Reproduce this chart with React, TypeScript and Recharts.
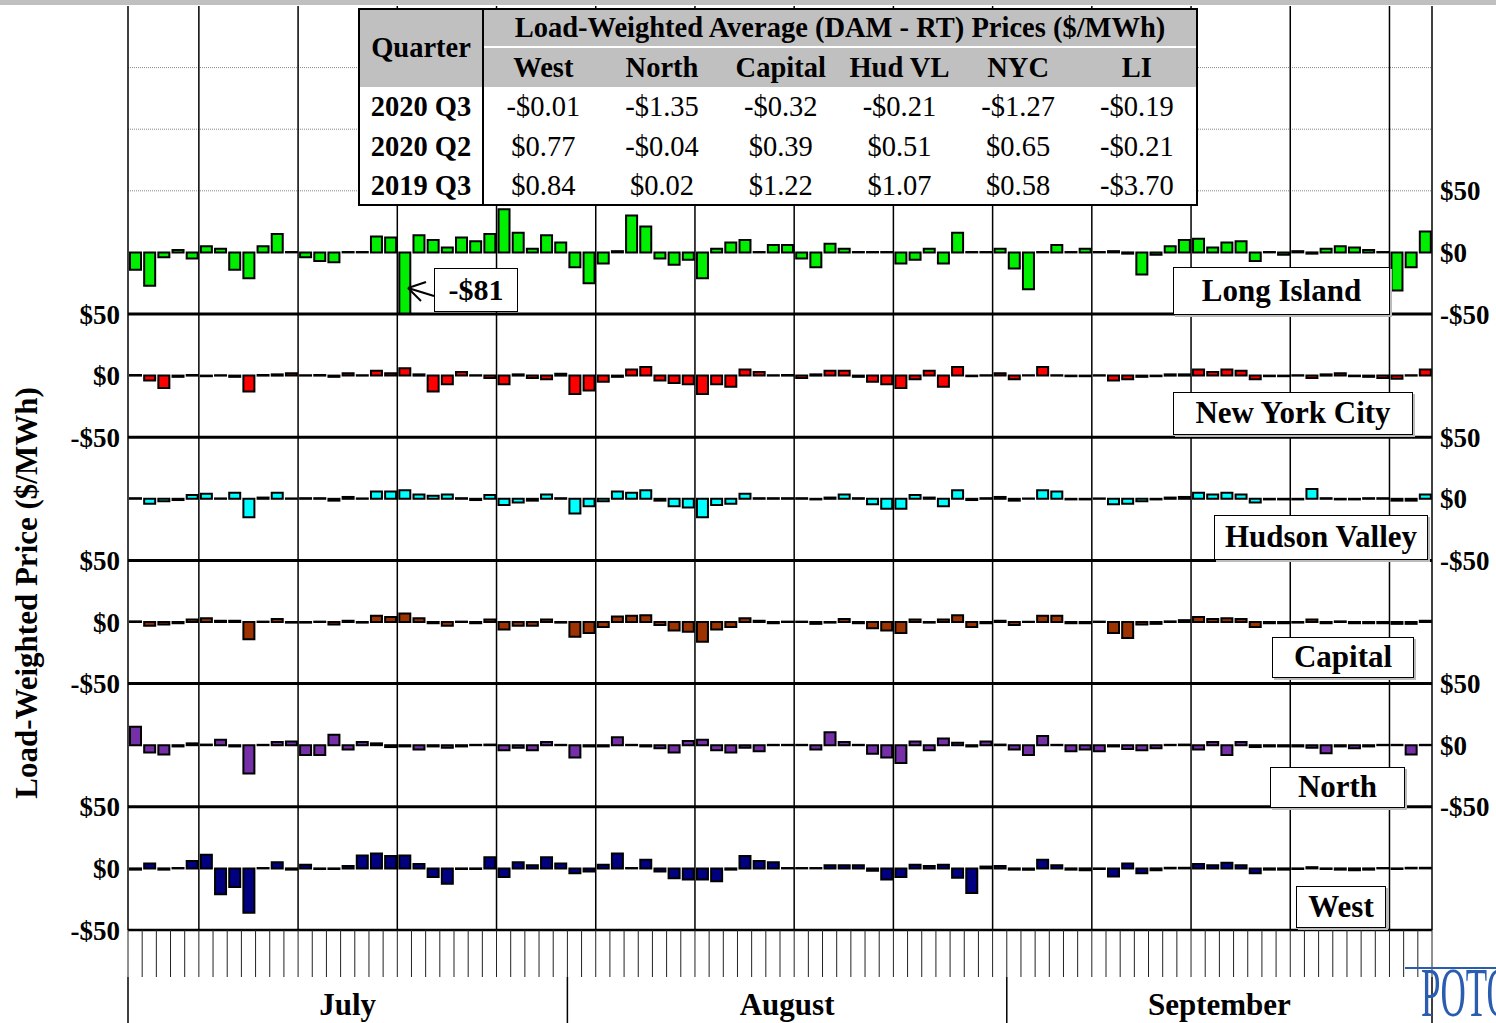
import React from "react";
import { ComposedChart, Bar, XAxis, YAxis, ReferenceLine } from "recharts";

// Daily load-weighted (DAM - RT) price differences, Jul 1 - Sep 30 2020 ($/MWh)
const MONTHS: [string, number][] = [["7", 31], ["8", 31], ["9", 30]];
const DAYS: string[] = MONTHS.flatMap(([m, n]) => Array.from({ length: n }, (_, i) => `${m}/${i + 1}`));

const LONG_ISLAND = [
  -14, -27, -4, 2, -5,
  5, 3, -14, -21, 5, 15, 0.3,
  -4, -7, -8, 0.3, 0.3, 13, 12,
  -81, 14, 10, 4, 12, 9, 15,
  35, 16, 3, 14, 8, -12, -25,
  -9, 1, 30, 21, -5, -10, -6,
  -21, 3, 8, 10, 0.3, 6, 6,
  -5, -12, 7, 3, 0.3, 0.3, 0.3,
  -9, -6, 3, -9, 16, 0.3, 0.3,
  3, -13, -30, 0.3, 6, 0.3, 3,
  0.3, 1, -1, -18, -2, 5, 10,
  11, 4, 8, 9, -7, 0.3, -2,
  1, -1, 3, 5, 4, 2, 0.3,
  -31, -12, 17,
];
const NYC = [
  0.5, -4, -10, -1, 0.5,
  -0.5, 0.3, -1, -13, 0.5, 1, 2,
  0.3, 0.5, -1, 2, 0.3, 4, 2,
  6, 1, -13, -7, 3, 0.3, -2,
  -7, 1, -2, -3, 1.5, -15, -12,
  -5, -1, 5, 7, -4, -6, -7,
  -15, -7, -9, 5, 3, 0.3, 0.5,
  -2, 1, 4, 4, -1, -5, -7,
  -10, -3, 4, -9, 7, -0.5, 0.3,
  2, -3, 0.3, 7, 0.3, -0.5, -0.5,
  0.3, -4, -3, -1, -0.5, 1, 1,
  5, 3, 5, 4, -3, -0.5, -0.5,
  0.3, -2, 1, 2, -0.5, -1, -2,
  -2.5, 0.3, 5,
];
const HUDSON_VALLEY = [
  0.5, -4, -2, -1, 3,
  4, 0.3, 5, -15, 1, 5, 0.3,
  0.5, 0.5, -1.5, 1.5, 0.3, 6, 6,
  7, 3.5, 2.5, 3.5, 0.5, -1, 3,
  -5, -3, -1.5, 3.5, 0.5, -12, -6,
  -2, 6, 5, 7, -1.5, -6, -7,
  -15, -5, -4, 4, 0.5, 0.5, 0.5,
  0.5, -0.5, 1, 3.5, 0.5, -4.5, -8,
  -8, 3, 1, -6, 7, -1, 0.5,
  1.5, -1.5, 0.3, 7, 6, -0.5, -0.5,
  0.3, -4.5, -4, -2, -0.5, 1, 1.5,
  5, 3.5, 5, 3.5, -3, -0.5, -0.5,
  -0.5, 8, 0.5, -0.5, -0.5, 0.5, 0.5,
  -1.5, -1.5, 3.5,
];
const CAPITAL = [
  0.5, -3, -2, -1, 2,
  3, 1, 1, -14, 0.3, 2.5, -0.5,
  -0.5, 0.3, -2, 1, -0.5, 5, 4,
  7, 3, -1, -3, 0.3, -1, 2,
  -6, -3, -3, 2, -0.5, -12, -9,
  -4, 4.5, 5, 5.5, -2.5, -7, -8,
  -16, -6, -4, 3, 1, -1, 0.3,
  0.3, -1.5, -0.5, 2.5, -1, -5, -7,
  -9, 2, -0.5, 2, 5.5, -4, -1,
  1, -2.5, 0.3, 5, 5, -1, -1,
  0.3, -9, -13, -2, -1.5, 0.5, 1.5,
  4, 2.5, 3, 2.5, -4, -1, -1,
  -0.5, 2, -1, 0.5, -1, -1, -1,
  -1.5, -1.5, 1,
];
const NORTH = [
  15, -6, -7.5, -1, 1.5,
  0.5, 4.5, -1, -23, 0.3, 2.5, 3,
  -8, -8, 8.5, -3.5, 2.5, 1.5, -1.5,
  -1, -3.5, -1, -2, -1, 0.3, 0.5,
  -4, -2, -4, 2.5, 0.3, -10, -1,
  -1, 6.5, 0.3, -1, -2.5, -6, 3.5,
  4.5, -4, -6, -2, -5, 0.3, 0.3,
  0.3, -3.5, 10.5, 2.5, 0.3, -7, -10,
  -14.5, 3, -4, 5.5, 2, -1, 3,
  0.5, -3.5, -8, 7.5, 0.3, -5, -3.5,
  -5, -1, -3, -4, -2.5, 0.3, 0.5,
  -3.5, 2.5, -8, 2.5, -1.5, -1, -1,
  -1, -2, -6.5, -1, -2.5, -1, 0.3,
  0.3, -7.5, 0.3,
];
const WEST = [
  -1, 4, -1, 0.3, 6,
  11, -21, -15, -36, 0.3, 5, -1,
  3, -0.5, -0.5, 2, 10.5, 12, 10,
  10.5, 3.5, -7, -12.5, -0.5, -0.5, 9,
  -7, 5, 2.5, 9, 4, -4, -2.5,
  3, 12, 0.3, 7, -2.5, -8, -9,
  -9, -10.5, -1, 10, 6, 5, 0.3,
  0.3, 0.3, 2.5, 2.5, 2.5, -2, -9,
  -7, 3, 2, 3, -7.5, -20, 1.5,
  2, -1, -1, 7, 2.5, -1, -1.5,
  -0.5, -6.5, 4, -4, -1.5, 0.5, 0.5,
  3.5, 2.5, 4.5, 2.5, -4, -1, -1,
  -0.5, 1, -0.5, -1, -1.5, -1, 0.3,
  -0.5, 0.5, 0.5,
];

// quarterly summary table
const TABLE_ZONES = ["West", "North", "Capital", "Hud VL", "NYC", "LI"];
const TABLE_ROWS: [string, string[]][] = [
  ["2020 Q3", ["-$0.01", "-$1.35", "-$0.32", "-$0.21", "-$1.27", "-$0.19"]],
  ["2020 Q2", ["$0.77", "-$0.04", "$0.39", "$0.51", "$0.65", "-$0.21"]],
  ["2019 Q3", ["$0.84", "$0.02", "$1.22", "$1.07", "$0.58", "-$3.70"]],
];

// axis ticks (global units: every panel is 100 units tall, West at the bottom)
const LEFT_TICKS = [-50, 0, 50, 150, 200, 250, 350, 400, 450];
const LEFT_LABELS = ["-$50", "$0", "$50", "-$50", "$0", "$50", "-$50", "$0", "$50"];
const RIGHT_TICKS = [50, 100, 150, 250, 300, 350, 450, 500, 550];
const RIGHT_LABELS = ["-$50", "$0", "$50", "-$50", "$0", "$50", "-$50", "$0", "$50"];
const PANEL_BORDERS = [50, 150, 250, 350, 450];
const LI_GRID = [550, 600, 650];
// Mondays get a full-height grid line
const WEEK_STARTS = ["7/6", "7/13", "7/20", "7/27", "8/3", "8/10", "8/17", "8/24", "8/31", "9/7", "9/14", "9/21", "9/28"];
// month axis: separators at month starts / end, names at mid-month
const MONTH_TICKS = ["7/1", "7/16", "8/1", "8/16", "9/1", "9/15", "9/30"];
const MONTH_NAMES: Record<string, string> = { "7/16": "July", "8/16": "August", "9/15": "September" };

const SERIES = [
  { key: "west", name: "West", values: WEST, color: "#000080", domain: [-50, 700] },
  { key: "north", name: "North", values: NORTH, color: "#7530a8", domain: [-150, 600] },
  { key: "capital", name: "Capital", values: CAPITAL, color: "#9c3300", domain: [-250, 500] },
  { key: "hv", name: "Hudson Valley", values: HUDSON_VALLEY, color: "#00ffff", domain: [-350, 400] },
  { key: "nyc", name: "New York City", values: NYC, color: "#ff0000", domain: [-450, 300] },
  { key: "li", name: "Long Island", values: LONG_ISLAND, color: "#00ee00", domain: [-550, 200] },
];

const data = DAYS.map((day, i) => {
  const row: Record<string, string | number> = { day };
  SERIES.forEach((s) => (row[s.key] = s.values[i]));
  return row;
});

const FONT = "'Liberation Serif', 'Times New Roman', serif";
const tickStyle = { fontSize: 27, fontWeight: 700, fontFamily: FONT, fill: "#000" };

// day ticks sit on the boundaries between days
const DayTick = (props: any) => {
  const { x, y, payload, index } = props;
  const half = payload.offset ?? 7.09;
  return (
    <g>
      <line x1={x - half} x2={x - half} y1={y} y2={y + 47} stroke="#222" strokeWidth={1} />
      {index === DAYS.length - 1 && <line x1={x + half} x2={x + half} y1={y} y2={y + 47} stroke="#222" strokeWidth={1} />}
    </g>
  );
};

const MonthTick = (props: any) => {
  const { x, y, payload } = props;
  const half = payload.offset ?? 7.09;
  const v = payload.value;
  const name = MONTH_NAMES[v];
  if (!name) {
    const lx = v === "9/30" ? x + half : x - half;
    return <line x1={lx} x2={lx} y1={y} y2={y + 50} stroke="#000" strokeWidth={1.5} />;
  }
  const tx = v === "9/15" ? x + half : x;
  return (
    <text x={tx} y={y + 38} textAnchor="middle" style={{ fontSize: 31, fontWeight: 700, fontFamily: FONT }} fill="#000">
      {name}
    </text>
  );
};

const PanelLabel = ({ text, left, top, width, height }: any) => (
  <div
    style={{
      position: "absolute", left, top, width, height, boxSizing: "border-box",
      border: "1.5px solid #000", background: "#fff", fontFamily: FONT, fontWeight: 700,
      fontSize: 31, lineHeight: `${height - 3}px`, textAlign: "center", boxShadow: "2px 2px 0 #bbb",
    }}
  >
    {text}
  </div>
);

const cell = (left: number, top: number, width: number, height: number, text: string, bold: boolean) => (
  <div
    key={`${left}-${top}`}
    style={{
      position: "absolute", left, top, width, height, lineHeight: `${height}px`,
      textAlign: "center", fontWeight: bold ? 700 : 400, whiteSpace: "nowrap",
    }}
  >
    {text}
  </div>
);

const SummaryTable = () => {
  const colW = 118.7;
  return (
    <div
      style={{
        position: "absolute", left: 358, top: 8, width: 840, height: 198, boxSizing: "border-box",
        border: "2px solid #000", background: "#fff", fontFamily: FONT, fontSize: 28.5, color: "#000",
      }}
    >
      <div style={{ position: "absolute", left: 0, top: 0, right: 0, height: 77, background: "#c0c0c0" }} />
      <div style={{ position: "absolute", left: 122, top: 0, width: 2, bottom: 0, background: "#000" }} />
      <div style={{ position: "absolute", left: 124, top: 36, right: 0, height: 2, background: "#fff" }} />
      {cell(0, 18, 122, 40, "Quarter", true)}
      {cell(124, -2, 712, 40, "Load-Weighted Average (DAM - RT) Prices ($/MWh)", true)}
      {TABLE_ZONES.map((z, i) => cell(124 + i * colW, 38, colW, 40, z, true))}
      {TABLE_ROWS.map(([q, vals], r) => (
        <React.Fragment key={q}>
          {cell(0, 77 + r * 39.5, 122, 40, q, true)}
          {vals.map((v, i) => cell(124 + i * colW, 77 + r * 39.5, colW, 40, v, false))}
        </React.Fragment>
      ))}
    </div>
  );
};

export default function App() {
  return (
    <div style={{ position: "absolute", left: 0, top: 0, width: 1496, height: 1023, overflow: "hidden", background: "#fff" }}>
      <div style={{ position: "absolute", left: 0, top: 0, width: 1496, height: 5, background: "#c0c0c0" }} />
      <ComposedChart width={1496} height={1023} data={data} margin={{ top: 6, right: 0, bottom: 0, left: 0 }}>
        <XAxis
          xAxisId="days" dataKey="day" interval={0} tick={<DayTick />} tickLine={false}
          tickSize={0} tickMargin={0} height={47} axisLine={{ stroke: "#000", strokeWidth: 2.5 }}
        />
        <XAxis
          xAxisId="month" dataKey="day" ticks={MONTH_TICKS} interval={0} height={46}
          axisLine={false} tickLine={false} tickSize={0} tickMargin={0} tick={<MonthTick />}
        />
        {SERIES.map((s) => (
          <XAxis key={`x-${s.key}`} xAxisId={`cat-${s.key}`} dataKey="day" hide height={0} />
        ))}
        <YAxis
          yAxisId="left" type="number" domain={[-50, 700]} allowDataOverflow ticks={LEFT_TICKS} width={128} interval={0}
          tickFormatter={(v: number) => LEFT_LABELS[LEFT_TICKS.indexOf(v)]} tick={tickStyle}
          tickLine={false} axisLine={{ stroke: "#000", strokeWidth: 1.5 }}
        />
        <YAxis
          yAxisId="right" orientation="right" type="number" domain={[-50, 700]} allowDataOverflow ticks={RIGHT_TICKS} width={64} interval={0}
          tickFormatter={(v: number) => RIGHT_LABELS[RIGHT_TICKS.indexOf(v)]} tick={tickStyle}
          tickLine={false} axisLine={{ stroke: "#000", strokeWidth: 1.5 }}
        />
        {SERIES.map((s) => (
          <YAxis key={`y-${s.key}`} yAxisId={`y-${s.key}`} orientation="right" type="number" domain={s.domain} allowDataOverflow hide width={0} />
        ))}
        {LI_GRID.map((y) => (
          <ReferenceLine key={`g${y}`} xAxisId="days" yAxisId="left" y={y} stroke="#888" strokeWidth={1} strokeDasharray="1 1" ifOverflow="visible" />
        ))}
        {WEEK_STARTS.map((x) => (
          <ReferenceLine key={`w${x}`} xAxisId="days" yAxisId="left" x={x} position="start" stroke="#000" strokeWidth={1.5} ifOverflow="visible" />
        ))}
        {PANEL_BORDERS.map((y) => (
          <ReferenceLine key={`p${y}`} xAxisId="days" yAxisId="left" y={y} stroke="#000" strokeWidth={3} ifOverflow="visible" />
        ))}
        {SERIES.map((s) => (
          <Bar
            key={s.key}
            xAxisId={`cat-${s.key}`}
            yAxisId={`y-${s.key}`}
            dataKey={s.key === "li" ? (d: any) => Math.max(d.li, -50) : s.key}
            name={s.name}
            fill={s.color}
            stroke="#000"
            strokeWidth={2}
            barSize={11}
            isAnimationActive={false}
          />
        ))}
      </ComposedChart>

      <SummaryTable />

      <PanelLabel text="Long Island" left={1173} top={267} width={217} height={48} />
      <PanelLabel text="New York City" left={1173} top={392} width={240} height={43} />
      <PanelLabel text="Hudson Valley" left={1214} top={515} width={214} height={45} />
      <PanelLabel text="Capital" left={1272} top={637} width={142} height={41} />
      <PanelLabel text="North" left={1270} top={767} width={135} height={41} />
      <PanelLabel text="West" left={1296} top={886} width={90} height={42} />

      <div
        style={{
          position: "absolute", left: 434, top: 268, width: 84, height: 44, boxSizing: "border-box",
          border: "1.5px solid #000", background: "#fff", fontFamily: FONT, fontWeight: 700, fontSize: 30,
          lineHeight: "41px", textAlign: "center",
        }}
      >
        -$81
      </div>
      <svg style={{ position: "absolute", left: 0, top: 0, pointerEvents: "none" }} width={1496} height={1023}>
        <line x1={408} y1={288} x2={434} y2={296} stroke="#000" strokeWidth={2} />
        <line x1={408} y1={288} x2={426} y2={282} stroke="#000" strokeWidth={2} />
        <line x1={408} y1={288} x2={421} y2={301} stroke="#000" strokeWidth={2} />
        <line x1={1405} y1={968} x2={1496} y2={968} stroke="#2a5db0" strokeWidth={2} />
      </svg>

      <div
        style={{
          position: "absolute", left: 1421, top: 956, fontFamily: FONT, fontSize: 70, color: "#2a5db0",
          transform: "scaleX(0.5)", transformOrigin: "left top", whiteSpace: "nowrap", lineHeight: "74px",
        }}
      >
        POTOMAC
      </div>

      <div
        style={{
          position: "absolute", left: 27, top: 593, transform: "translate(-50%, -50%) rotate(-90deg)",
          fontFamily: FONT, fontWeight: 700, fontSize: 31, whiteSpace: "nowrap",
        }}
      >
        Load-Weighted Price ($/MWh)
      </div>
    </div>
  );
}
